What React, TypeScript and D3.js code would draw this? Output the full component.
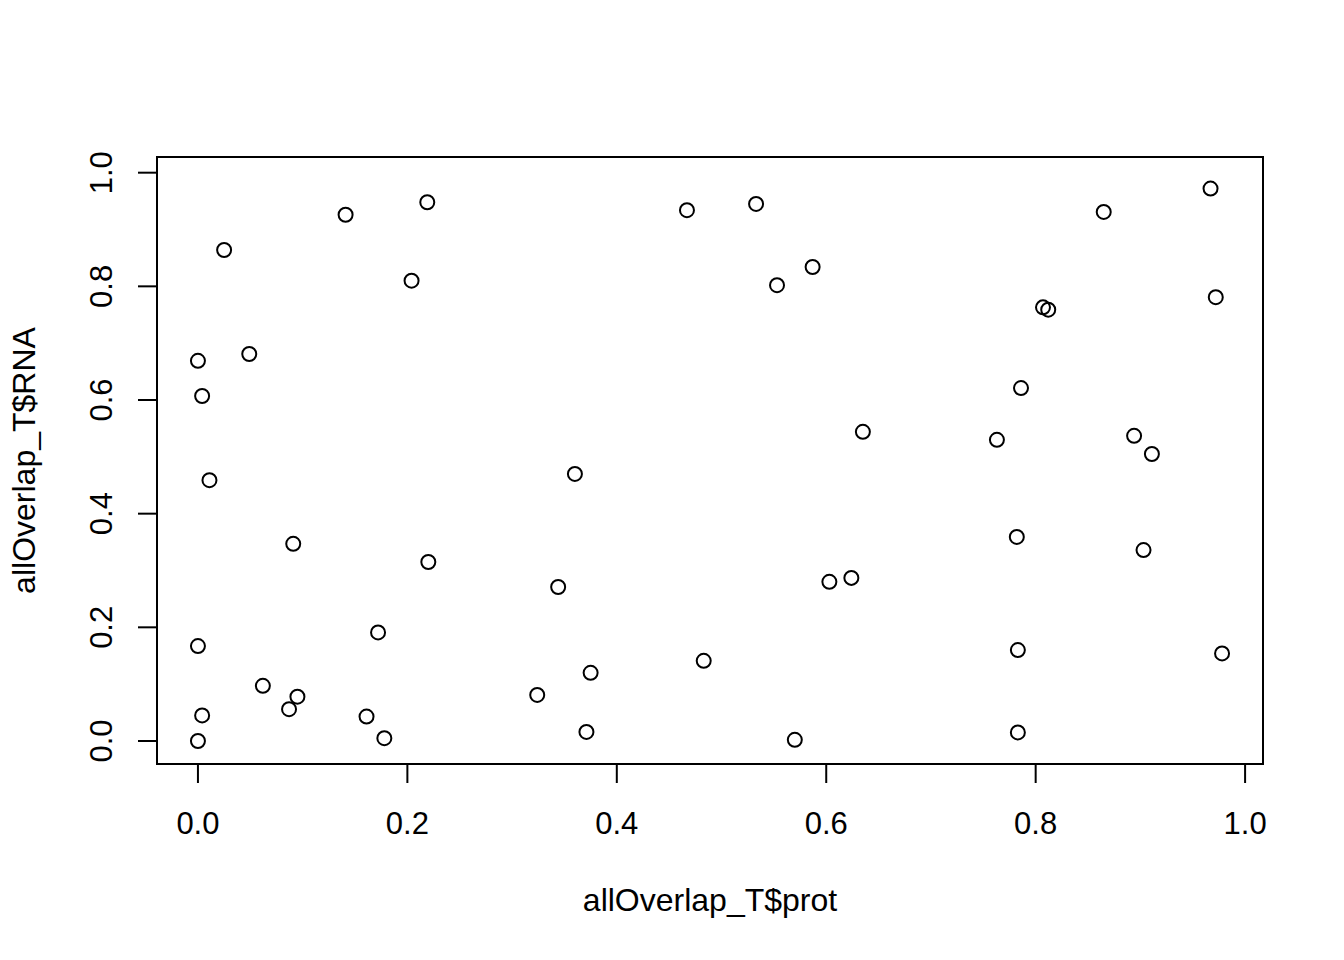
import React, { useRef, useEffect } from 'react';
import * as d3 from 'd3';

// allOverlap_T$prot values
const prot: number[] = [
  0.0, 0.025, 0.141, 0.219, 0.204, 0.049, 0.004, 0.011, 0.091, 0.22,
  0.0, 0.172, 0.062, 0.095, 0.087, 0.004, 0.0, 0.161, 0.178,
  0.324, 0.371, 0.375, 0.344, 0.36,
  0.467, 0.533, 0.553, 0.587, 0.483, 0.57, 0.603, 0.624, 0.635,
  0.763, 0.786, 0.807, 0.812, 0.865, 0.967, 0.972, 0.894, 0.911,
  0.782, 0.903, 0.783, 0.978, 0.783,
];

// allOverlap_T$RNA values
const rna: number[] = [
  0.669, 0.864, 0.926, 0.948, 0.81, 0.681, 0.607, 0.459, 0.347, 0.315,
  0.167, 0.191, 0.097, 0.078, 0.056, 0.045, 0.0, 0.043, 0.005,
  0.081, 0.016, 0.12, 0.271, 0.47,
  0.934, 0.945, 0.802, 0.834, 0.141, 0.002, 0.28, 0.287, 0.544,
  0.53, 0.621, 0.763, 0.759, 0.931, 0.972, 0.781, 0.537, 0.505,
  0.359, 0.336, 0.16, 0.154, 0.015,
];

const xTicks = [0, 0.2, 0.4, 0.6, 0.8, 1.0];
const yTicks = [0, 0.2, 0.4, 0.6, 0.8, 1.0];

const xLabel = 'allOverlap_T$prot';
const yLabel = 'allOverlap_T$RNA';

const App: React.FC = () => {
  const svgRef = useRef<SVGSVGElement>(null);

  useEffect(() => {
    document.body.style.margin = '0';
    if (!svgRef.current) return;
    const width = 1344;
    const height = 960;
    const left = 157;
    const right = 1263;
    const top = 157;
    const bottom = 764;
    const font = 'Liberation Sans, Arial, Helvetica, sans-serif';

    d3.select(svgRef.current).selectAll('*').remove();
    const svg = d3
      .select(svgRef.current)
      .attr('width', width)
      .attr('height', height);

    svg.append('rect').attr('width', width).attr('height', height).attr('fill', '#fff');

    // R-style 4% extended ranges
    const xScale = d3.scaleLinear().domain([-0.0391, 1.0171]).range([left, right]);
    const yScale = d3.scaleLinear().domain([-0.0405, 1.0276]).range([bottom, top]);

    // box
    svg
      .append('rect')
      .attr('x', left)
      .attr('y', top)
      .attr('width', right - left)
      .attr('height', bottom - top)
      .attr('fill', 'none')
      .attr('stroke', '#000')
      .attr('stroke-width', 2);

    // x axis
    const gx = svg.append('g');
    gx.append('line')
      .attr('x1', xScale(0))
      .attr('x2', xScale(1))
      .attr('y1', bottom)
      .attr('y2', bottom)
      .attr('stroke', '#000')
      .attr('stroke-width', 2);
    gx.selectAll('.tick')
      .data(xTicks)
      .enter()
      .append('line')
      .attr('x1', (d) => xScale(d))
      .attr('x2', (d) => xScale(d))
      .attr('y1', bottom)
      .attr('y2', bottom + 19)
      .attr('stroke', '#000')
      .attr('stroke-width', 2);
    gx.selectAll('.lab')
      .data(xTicks)
      .enter()
      .append('text')
      .attr('x', (d) => xScale(d))
      .attr('y', 834)
      .attr('text-anchor', 'middle')
      .style('font-family', font)
      .style('font-size', '31px')
      .text((d) => d.toFixed(1));

    // y axis
    const gy = svg.append('g');
    gy.append('line')
      .attr('x1', left)
      .attr('x2', left)
      .attr('y1', yScale(0))
      .attr('y2', yScale(1))
      .attr('stroke', '#000')
      .attr('stroke-width', 2);
    gy.selectAll('.tick')
      .data(yTicks)
      .enter()
      .append('line')
      .attr('x1', left)
      .attr('x2', left - 19)
      .attr('y1', (d) => yScale(d))
      .attr('y2', (d) => yScale(d))
      .attr('stroke', '#000')
      .attr('stroke-width', 2);
    gy.selectAll('.lab')
      .data(yTicks)
      .enter()
      .append('text')
      .attr('transform', (d) => `translate(112, ${yScale(d)}) rotate(-90)`)
      .attr('text-anchor', 'middle')
      .style('font-family', font)
      .style('font-size', '31px')
      .text((d) => d.toFixed(1));

    // axis titles
    svg
      .append('text')
      .attr('x', (left + right) / 2)
      .attr('y', 911)
      .attr('text-anchor', 'middle')
      .style('font-family', font)
      .style('font-size', '32px')
      .text(xLabel);
    svg
      .append('text')
      .attr('transform', `translate(35, ${(top + bottom) / 2}) rotate(-90)`)
      .attr('text-anchor', 'middle')
      .style('font-family', font)
      .style('font-size', '32px')
      .text(yLabel);

    // points
    svg
      .append('g')
      .selectAll('circle')
      .data(prot.map((p, i) => ({ x: p, y: rna[i] })))
      .enter()
      .append('circle')
      .attr('cx', (d) => xScale(d.x))
      .attr('cy', (d) => yScale(d.y))
      .attr('r', 7)
      .attr('fill', 'none')
      .attr('stroke', '#000')
      .attr('stroke-width', 2);
  }, []);

  return (
    <div>
      <svg ref={svgRef} style={{ display: 'block' }} />
    </div>
  );
};

export default App;
